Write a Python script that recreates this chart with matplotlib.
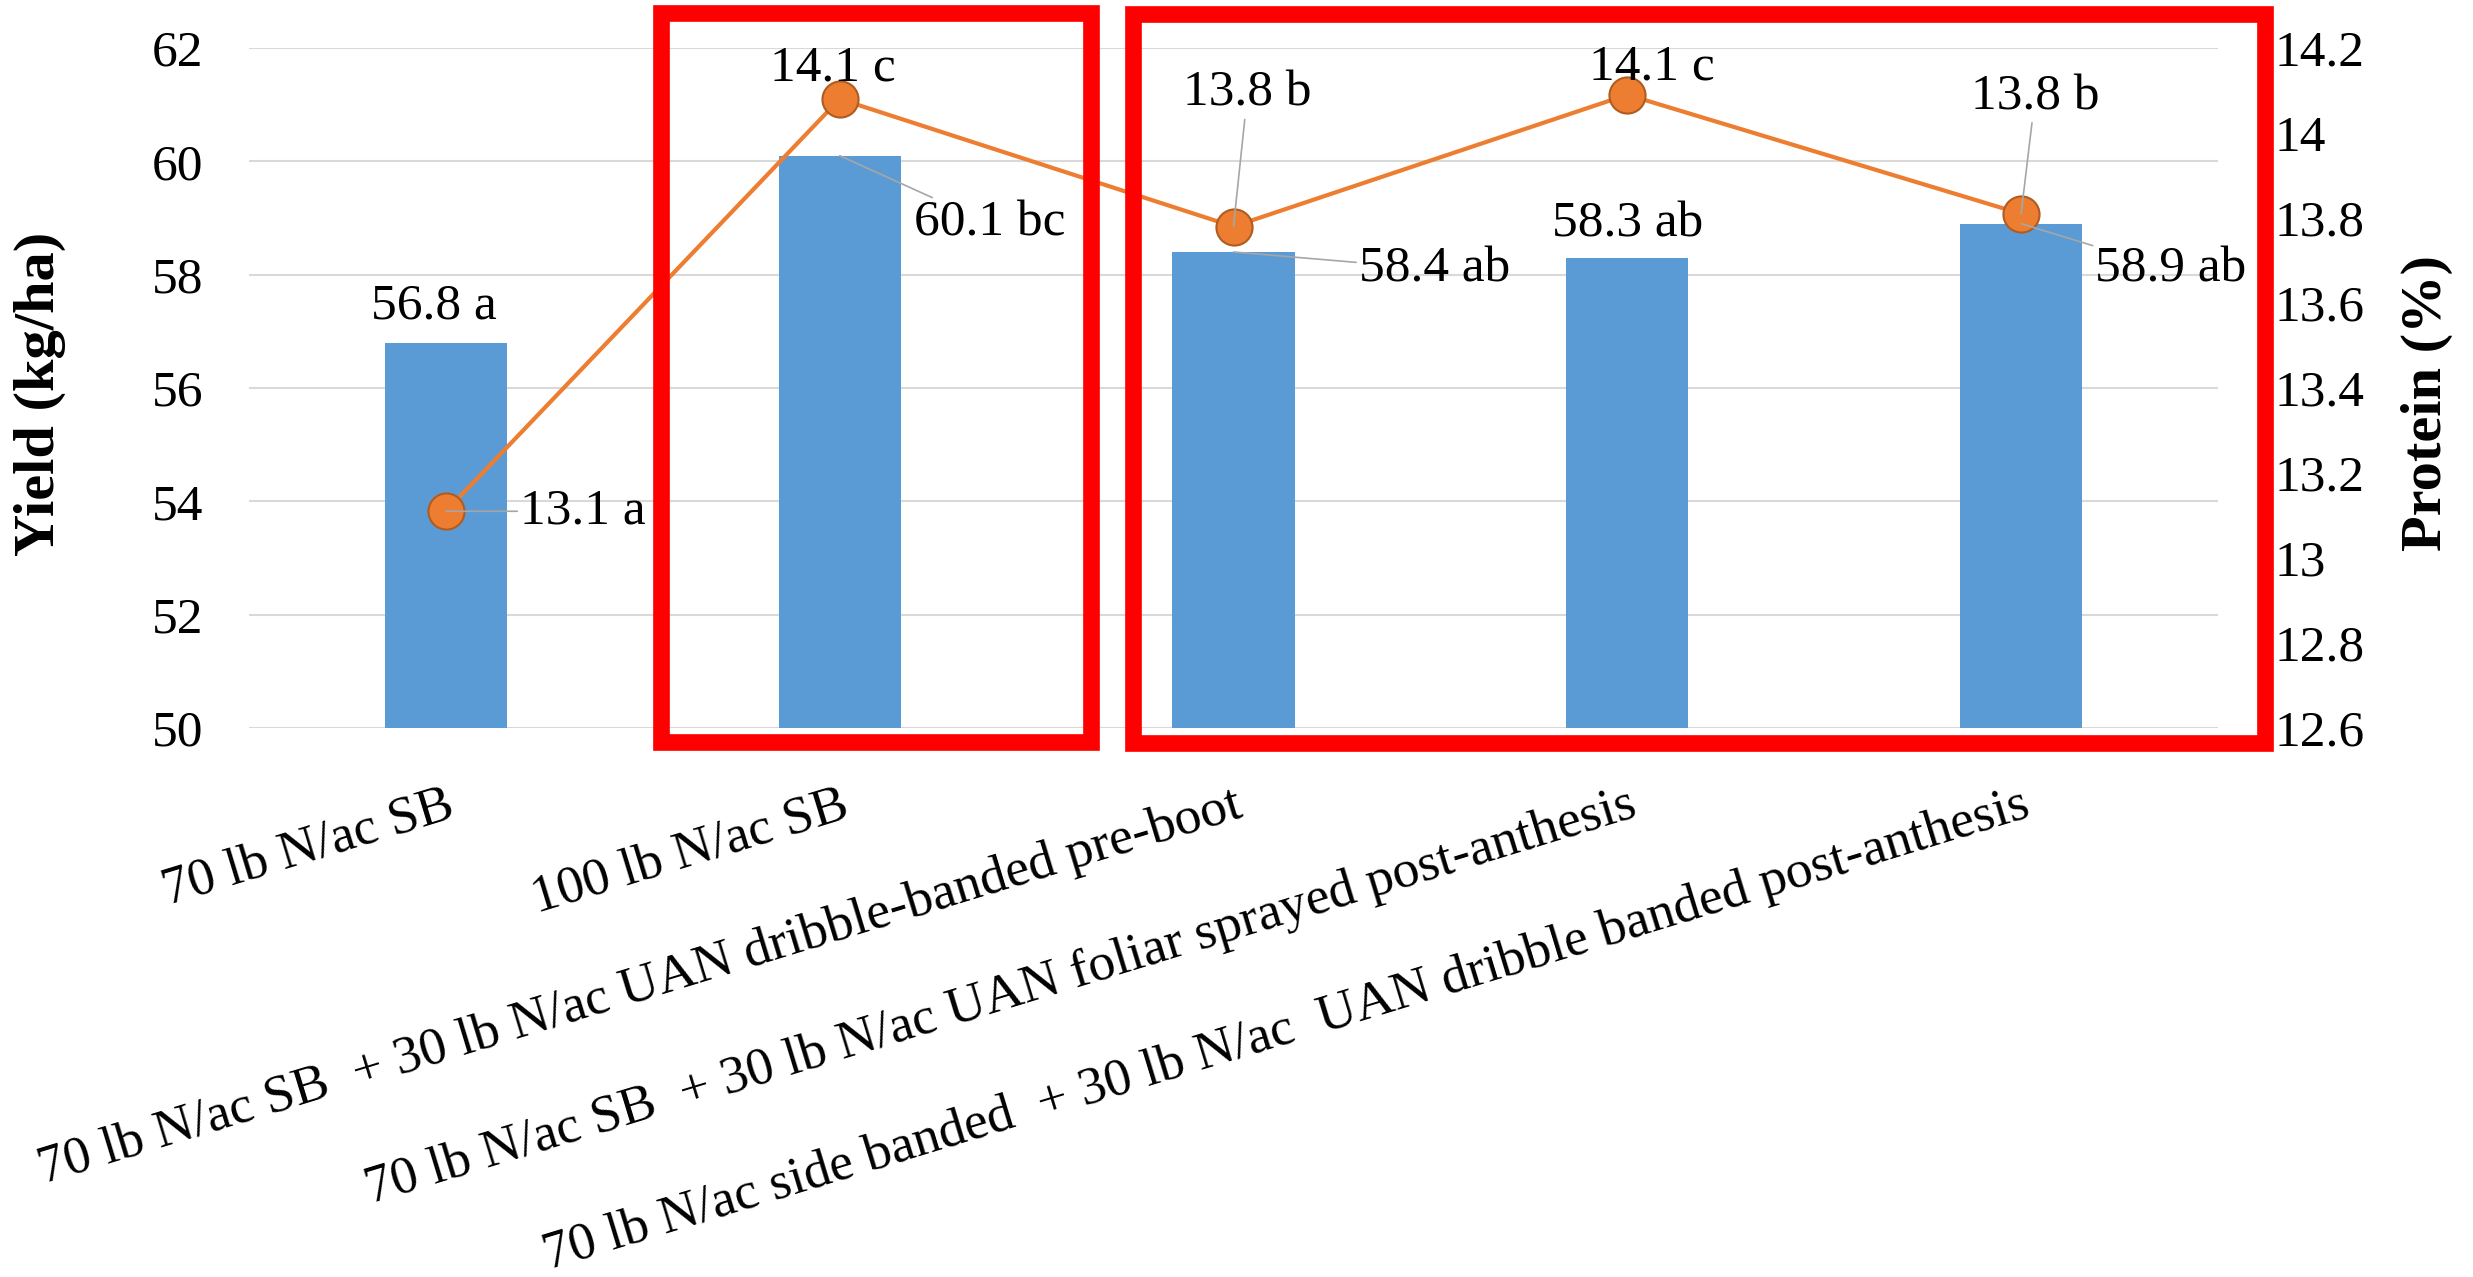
import matplotlib
matplotlib.use("Agg")
import matplotlib.pyplot as plt
from matplotlib.patches import Rectangle
from matplotlib.ticker import FuncFormatter
import numpy as np

# ---------------- data ----------------
categories = [
    "70 lb N/ac SB",
    "100 lb N/ac SB",
    "70 lb N/ac SB  + 30 lb N/ac UAN dribble-banded pre-boot",
    "70 lb N/ac SB  + 30 lb N/ac UAN foliar sprayed post-anthesis",
    "70 lb N/ac side banded  + 30 lb N/ac  UAN dribble banded post-anthesis",
]
yield_values = [56.8, 60.1, 58.4, 58.3, 58.9]
yield_labels = ["56.8 a", "60.1 bc", "58.4 ab", "58.3 ab", "58.9 ab"]
protein_values = [13.11, 14.08, 13.78, 14.09, 13.81]
protein_labels = ["13.1 a", "14.1 c", "13.8 b", "14.1 c", "13.8 b"]
yield_ticks = [50, 52, 54, 56, 58, 60, 62]
protein_ticks = [12.6, 12.8, 13.0, 13.2, 13.4, 13.6, 13.8, 14.0, 14.2]

# ---------------- style ----------------
plt.rcParams["font.family"] = ["Liberation Serif", "DejaVu Serif"]
FS = 37
W, H = 2473, 1277
BAR_C = "#5B9BD5"
LINE_C = "#ED7D31"
GRID_C = "#D9D9D9"
LEAD_C = "#A6A6A6"

fig = plt.figure(figsize=(W / 100, H / 100), dpi=100)
L, R, T, B = 249, 2218, 48, 728
ax = fig.add_axes([L / W, 1 - B / H, (R - L) / W, (B - T) / H])
x = np.arange(len(categories))

ax.bar(x, yield_values, width=0.31, color=BAR_C, zorder=2)
ax.set_xlim(-0.5, len(categories) - 0.5)
ax.set_ylim(yield_ticks[0], yield_ticks[-1])
ax.set_yticks(yield_ticks)
ax.grid(axis="y", color=GRID_C, lw=1.5, zorder=0)
ax.set_axisbelow(True)
for s in ax.spines.values():
    s.set_visible(False)
ax.tick_params(axis="y", length=0, pad=33, labelsize=FS)
ax.tick_params(axis="x", length=0, pad=38, labelsize=38.5)
ax.set_xticks(x)
ax.set_xticklabels(categories)
plt.setp(ax.get_xticklabels(), rotation=17, ha="right", va="top",
         rotation_mode="anchor")

ax2 = ax.twinx()
ax2.set_ylim(protein_ticks[0], protein_ticks[-1])
ax2.set_yticks(protein_ticks)
ax2.yaxis.set_major_formatter(FuncFormatter(lambda v, p: f"{round(v, 1):g}"))
ax2.tick_params(axis="y", length=0, pad=41, labelsize=FS)
for s in ax2.spines.values():
    s.set_visible(False)
ax2.plot(x, protein_values, color=LINE_C, lw=3, marker="o", ms=26,
         mfc=LINE_C, mec="#B05C20", mew=1.5, zorder=3)

# data labels (offsets in pixels from the data point)
bar_offsets = [(-12, 36), (150, -68), (201, -17), (0, 33), (150, -46)]
bar_leader = [False, True, True, False, True]
for i in range(len(categories)):
    dx, dy = bar_offsets[i]
    ap = dict(arrowstyle="-", color=LEAD_C, lw=1.2, shrinkA=0, shrinkB=0) if bar_leader[i] else None
    ax2.annotate(yield_labels[i], xy=(x[i], yield_values[i]), xycoords=ax.transData,
                 xytext=(dx, dy), textcoords="offset pixels", ha="center",
                 va="center", fontsize=FS, arrowprops=ap, zorder=5)

prot_offsets = [(137, 0), (-7, 31), (14, 133), (25, 28), (14, 117)]
prot_leader = [True, False, True, False, True]
for i in range(len(categories)):
    dx, dy = prot_offsets[i]
    ap = dict(arrowstyle="-", color=LEAD_C, lw=1.2, shrinkA=0, shrinkB=0) if prot_leader[i] else None
    ax2.annotate(protein_labels[i], xy=(x[i], protein_values[i]),
                 xytext=(dx, dy), textcoords="offset pixels", ha="center",
                 va="center", fontsize=FS, arrowprops=ap, zorder=5)

# axis titles
fig.text(40 / W, 1 - 394 / H, "Yield (kg/ha)", rotation=90, ha="center",
         va="center", fontsize=42, fontweight="bold")
fig.text(2427 / W, 1 - 403 / H, "Protein (%)", rotation=90, ha="center",
         va="center", fontsize=42, fontweight="bold")

# red highlight boxes (pixel centre-lines of the box borders)
boxes = [(660.5, 12.5, 1090.5, 741.5), (1133, 14, 2265, 743)]
for x0, y0, x1, y1 in boxes:
    fig.patches.append(Rectangle((x0 / W, 1 - y1 / H), (x1 - x0) / W, (y1 - y0) / H,
                                 transform=fig.transFigure, fill=False,
                                 edgecolor="#FF0000", lw=12, joinstyle="miter",
                                 zorder=10))

fig.savefig("out.png", dpi=100)
